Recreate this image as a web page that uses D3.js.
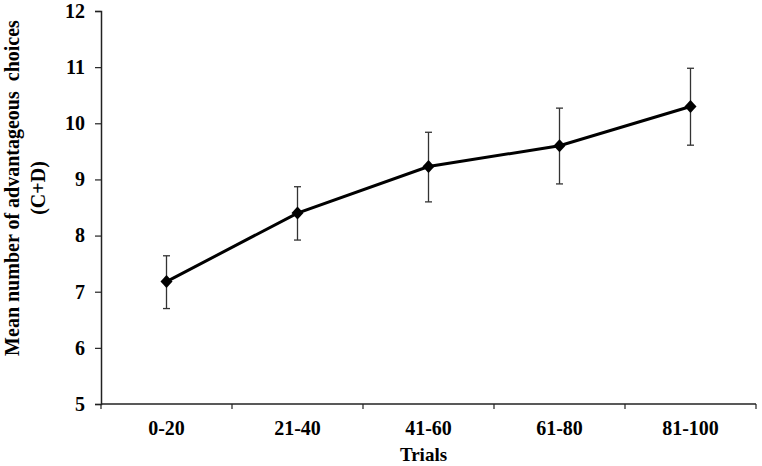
<!DOCTYPE html>
<html>
<head>
<meta charset="utf-8">
<script src="https://cdn.jsdelivr.net/npm/d3@7"></script>
<style>
  body { margin: 0; background: #fff; }
  text { font-family: "Liberation Serif", "Times New Roman", serif; font-weight: bold; fill: #000; }
</style>
</head>
<body>
<div id="chart"></div>
<script>
// data
var trials = ["0-20", "21-40", "41-60", "61-80", "81-100"];
var means = [7.18, 8.40, 9.23, 9.60, 10.30];
var upper = [7.64, 8.87, 9.84, 10.27, 10.98];
var lower = [6.70, 7.92, 8.60, 8.92, 9.61];
var yTicks = [5, 6, 7, 8, 9, 10, 11, 12];

var data = trials.map(function(t, i) {
  return { trial: t, mean: means[i], hi: upper[i], lo: lower[i] };
});

var W = 762, H = 466;
var margin = {top: 11, right: 6, bottom: 62, left: 101};
var width = W - margin.left - margin.right,
    height = H - margin.top - margin.bottom;

var svg = d3.select("#chart")
  .append("svg")
  .attr("width", W)
  .attr("height", H)
  .append("g")
  .attr("transform", "translate(" + margin.left + "," + margin.top + ")");

var x = d3.scaleBand()
  .domain(trials)
  .range([0, width]);

var y = d3.scaleLinear()
  .domain([5, 12])
  .range([height, 0]);

// X axis, ticks at band edges
var xAxis = svg.append("g")
  .attr("transform", "translate(0," + height + ")");
xAxis.append("line")
  .attr("x1", 0).attr("x2", width)
  .attr("stroke", "#222").attr("stroke-width", 1.5);
xAxis.selectAll(".edge")
  .data(trials.concat(["end"]))
  .enter().append("line")
  .attr("x1", function(d, i) { return i < trials.length ? x(d) : width; })
  .attr("x2", function(d, i) { return i < trials.length ? x(d) : width; })
  .attr("y1", 0).attr("y2", 5)
  .attr("stroke", "#222").attr("stroke-width", 1.2);
xAxis.selectAll(".lab")
  .data(trials)
  .enter().append("text")
  .attr("x", function(d) { return x(d) + x.bandwidth() / 2; })
  .attr("y", 31)
  .attr("text-anchor", "middle")
  .style("font-size", "20px")
  .text(function(d) { return d; });

// Y axis
var yAxis = svg.append("g")
  .call(d3.axisLeft(y).tickValues(yTicks).tickSize(6).tickPadding(10).tickFormat(d3.format("d")));
yAxis.select(".domain").attr("stroke", "#222").attr("stroke-width", 1.5);
yAxis.selectAll(".tick line").attr("stroke", "#222").attr("stroke-width", 1.2);
yAxis.selectAll(".tick text")
  .style("font-size", "20px")
  .style("font-family", "'Liberation Serif', serif")
  .style("font-weight", "bold")
  .attr("fill", "#000");

// Axis titles
svg.append("text")
  .attr("x", width / 2 - 5)
  .attr("y", height + 57)
  .attr("text-anchor", "middle")
  .style("font-size", "19px")
  .text("Trials");

var yTitle = svg.append("text")
  .attr("transform", "rotate(-90)")
  .attr("text-anchor", "middle")
  .style("font-size", "20px");
yTitle.append("tspan")
  .attr("x", -(188 - margin.top))
  .attr("y", -82)
  .style("white-space", "pre")
  .text("Mean number of advantageous  choices");
yTitle.append("tspan")
  .attr("x", -(188 - margin.top))
  .attr("y", -56)
  .text("(C+D)");

var cx = function(d) { return x(d.trial) + x.bandwidth() / 2; };

// Error bars
var err = svg.append("g").attr("stroke", "#333").attr("stroke-width", 1.3);
err.selectAll(".v")
  .data(data).enter().append("line")
  .attr("x1", cx).attr("x2", cx)
  .attr("y1", function(d) { return y(d.hi); })
  .attr("y2", function(d) { return y(d.lo); });
err.selectAll(".capt")
  .data(data).enter().append("line")
  .attr("x1", function(d) { return cx(d) - 3.5; })
  .attr("x2", function(d) { return cx(d) + 3.5; })
  .attr("y1", function(d) { return y(d.hi); })
  .attr("y2", function(d) { return y(d.hi); });
err.selectAll(".capb")
  .data(data).enter().append("line")
  .attr("x1", function(d) { return cx(d) - 3.5; })
  .attr("x2", function(d) { return cx(d) + 3.5; })
  .attr("y1", function(d) { return y(d.lo); })
  .attr("y2", function(d) { return y(d.lo); });

// The line
svg.append("path")
  .datum(data)
  .attr("fill", "none")
  .attr("stroke", "#000")
  .attr("stroke-width", 3)
  .attr("d", d3.line()
    .x(cx)
    .y(function(d) { return y(d.mean); }));

// Diamond markers
svg.selectAll(".pt")
  .data(data).enter().append("path")
  .attr("transform", function(d) { return "translate(" + cx(d) + "," + y(d.mean) + ")"; })
  .attr("d", "M0,-6.5L6,0L0,6.5L-6,0Z")
  .attr("fill", "#000");
</script>
</body>
</html>
